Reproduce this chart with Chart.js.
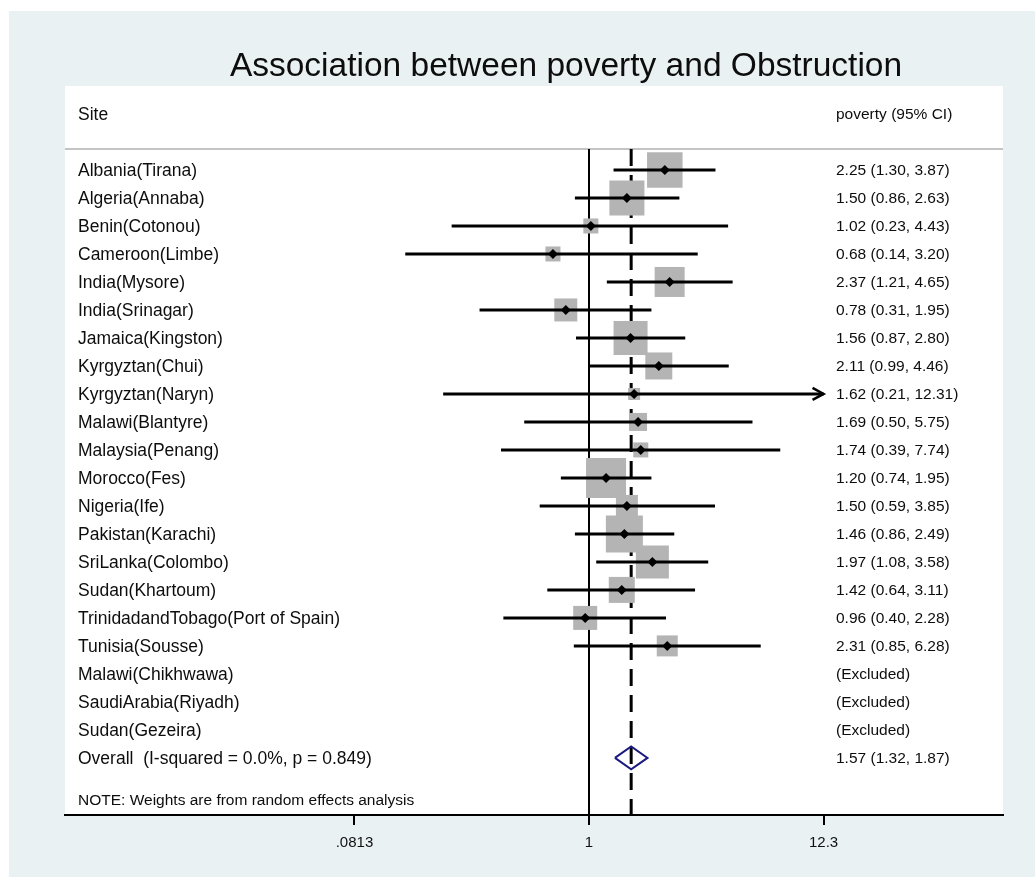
<!DOCTYPE html>
<html>
<head>
<meta charset="utf-8">
<script src="https://cdn.jsdelivr.net/npm/chart.js@4.4.1/dist/chart.umd.min.js"></script>
<style>
  html, body { margin: 0; padding: 0; background: #ffffff; }
  canvas { display: block; }
</style>
</head>
<body>
<canvas id="forest" width="1035" height="877"></canvas>
<script>
// Study-level odds ratios (poverty vs. obstruction) with 95% CI
const sites = [
  'Albania(Tirana)', 'Algeria(Annaba)', 'Benin(Cotonou)', 'Cameroon(Limbe)',
  'India(Mysore)', 'India(Srinagar)', 'Jamaica(Kingston)', 'Kyrgyztan(Chui)',
  'Kyrgyztan(Naryn)', 'Malawi(Blantyre)', 'Malaysia(Penang)', 'Morocco(Fes)',
  'Nigeria(Ife)', 'Pakistan(Karachi)', 'SriLanka(Colombo)', 'Sudan(Khartoum)',
  'TrinidadandTobago(Port of Spain)', 'Tunisia(Sousse)'
];
const estimates = [2.25, 1.50, 1.02, 0.68, 2.37, 0.78, 1.56, 2.11, 1.62, 1.69, 1.74, 1.20, 1.50, 1.46, 1.97, 1.42, 0.96, 2.31];
const lowerCI   = [1.30, 0.86, 0.23, 0.14, 1.21, 0.31, 0.87, 0.99, 0.21, 0.50, 0.39, 0.74, 0.59, 0.86, 1.08, 0.64, 0.40, 0.85];
const upperCI   = [3.87, 2.63, 4.43, 3.20, 4.65, 1.95, 2.80, 4.46, 12.31, 5.75, 7.74, 1.95, 3.85, 2.49, 3.58, 3.11, 2.28, 6.28];
// random-effects weights (%)
const weights   = [9.56, 9.30, 1.71, 1.71, 6.83, 4.01, 8.77, 5.53, 1.09, 2.46, 1.71, 12.14, 3.67, 10.39, 8.26, 5.13, 4.37, 3.35];

const excludedSites = ['Malawi(Chikhwawa)', 'SaudiArabia(Riyadh)', 'Sudan(Gezeira)'];

const overallLabel = 'Overall  (I-squared = 0.0%, p = 0.849)';
const overallValues = [1.57, 1.32, 1.87]; // estimate, lower, upper

const tickValues = [0.0813, 1, 12.3];
const tickLabels = ['.0813', '1', '12.3'];

const titleText = 'Association between poverty and Obstruction';
const noteText = 'NOTE: Weights are from random effects analysis';
const headerLeft = 'Site';
const headerRight = 'poverty (95% CI)';

// ---- row layout ----
const nStudies = sites.length;
const excludedStart = nStudies;
const overallRow = nStudies + excludedSites.length;
const noteRow = overallRow + 1.5;
const headerRow = -2;
const ruleRow = -0.75;
const yTop = -3;
const yBottom = overallRow + 2.04;

const fmt = v => v.toFixed(2);
const statText = (e, l, u) => `${fmt(e)} (${fmt(l)}, ${fmt(u)})`;

const BOX_SCALE = 11.48; // px of box side per sqrt(weight %)

// datasets
const refLine = [{ x: 1, y: ruleRow }, { x: 1, y: yBottom }];
const overallLine = [{ x: overallValues[0], y: ruleRow }, { x: overallValues[0], y: yBottom }];

const boxPoints = estimates.map((e, i) => ({ x: e, y: i }));
const boxRadii = weights.map(w => BOX_SCALE * Math.sqrt(w) / Math.SQRT2);

const ciPoints = [];
estimates.forEach((e, i) => {
  ciPoints.push({ x: lowerCI[i], y: i });
  ciPoints.push({ x: Math.min(upperCI[i], tickValues[tickValues.length - 1]), y: i });
  ciPoints.push({ x: e, y: null });
});

const diamondHalf = 0.41;
const diamondPoints = [
  { x: overallValues[1], y: overallRow },
  { x: overallValues[0], y: overallRow - diamondHalf },
  { x: overallValues[2], y: overallRow },
  { x: overallValues[0], y: overallRow + diamondHalf },
  { x: overallValues[1], y: overallRow }
];

const LEFT_FONT = '17.5px "Liberation Sans", Arial, sans-serif';
const RIGHT_FONT = '15.5px "Liberation Sans", Arial, sans-serif';
const NOTE_FONT = '15.5px "Liberation Sans", Arial, sans-serif';
const TITLE_FONT = '33.5px "Liberation Sans", Arial, sans-serif';
const TEXT_NUDGE = 1;

const backdrop = {
  id: 'backdrop',
  beforeDraw(chart) {
    const { ctx, chartArea: a } = chart;
    ctx.save();
    ctx.fillStyle = '#ffffff';
    ctx.fillRect(0, 0, chart.width, chart.height);
    ctx.fillStyle = '#e9f1f3';
    ctx.fillRect(9, 11, chart.width - 9, chart.height - 11);
    ctx.fillStyle = '#ffffff';
    ctx.fillRect(a.left, a.top, a.right - a.left, a.bottom - a.top);
    // header rule
    const y = chart.scales.y.getPixelForValue(ruleRow);
    ctx.strokeStyle = '#c4c4c4';
    ctx.lineWidth = 2;
    ctx.beginPath();
    ctx.moveTo(a.left, y);
    ctx.lineTo(a.right, y);
    ctx.stroke();
    ctx.restore();
  }
};

const annotations = {
  id: 'annotations',
  afterDraw(chart) {
    const { ctx, chartArea: a, scales: { x, y } } = chart;
    const leftX = a.left + 13;
    const rightX = a.right - 167;
    const rowY = r => y.getPixelForValue(r) + TEXT_NUDGE;
    ctx.save();
    ctx.fillStyle = '#0d0d0d';
    ctx.textBaseline = 'middle';

    // title
    ctx.font = TITLE_FONT;
    ctx.textAlign = 'center';
    ctx.fillText(titleText, 566, 67);

    ctx.textAlign = 'left';
    ctx.font = LEFT_FONT;
    ctx.fillText(headerLeft, leftX, rowY(headerRow));
    ctx.font = RIGHT_FONT;
    ctx.fillText(headerRight, rightX, rowY(headerRow));

    sites.forEach((s, i) => {
      const py = rowY(i);
      ctx.font = LEFT_FONT;
      ctx.fillText(s, leftX, py);
      ctx.font = RIGHT_FONT;
      ctx.fillText(statText(estimates[i], lowerCI[i], upperCI[i]), rightX, py);
    });
    excludedSites.forEach((s, j) => {
      const py = rowY(excludedStart + j);
      ctx.font = LEFT_FONT;
      ctx.fillText(s, leftX, py);
      ctx.font = RIGHT_FONT;
      ctx.fillText('(Excluded)', rightX, py);
    });
    const oy = rowY(overallRow);
    ctx.font = LEFT_FONT;
    ctx.fillText(overallLabel, leftX, oy);
    ctx.font = RIGHT_FONT;
    ctx.fillText(statText(overallValues[0], overallValues[1], overallValues[2]), rightX, oy);

    ctx.font = NOTE_FONT;
    ctx.fillText(noteText, leftX, rowY(noteRow));

    // arrowheads where the CI runs past the last tick
    const maxTick = tickValues[tickValues.length - 1];
    ctx.strokeStyle = '#000000';
    ctx.lineWidth = 2.5;
    upperCI.forEach((u, i) => {
      if (u > maxTick) {
        const px = x.getPixelForValue(maxTick);
        const py = y.getPixelForValue(i);
        ctx.beginPath();
        ctx.moveTo(px - 11, py - 6);
        ctx.lineTo(px, py);
        ctx.lineTo(px - 11, py + 6);
        ctx.stroke();
      }
    });
    ctx.restore();
  }
};

new Chart(document.getElementById('forest'), {
  type: 'scatter',
  data: {
    datasets: [
      { data: refLine, showLine: true, borderColor: '#000', borderWidth: 2, pointRadius: 0, order: 6 },
      { data: overallLine, showLine: true, borderColor: '#000', borderWidth: 3, borderDash: [17, 9], pointRadius: 0, order: 5 },
      { data: boxPoints, pointStyle: 'rect', pointRadius: boxRadii, backgroundColor: '#b4b4b4', borderWidth: 0, order: 4 },
      { data: ciPoints, showLine: true, spanGaps: false, borderColor: '#000', borderWidth: 3, pointRadius: 0, order: 3 },
      { data: boxPoints, pointStyle: 'rectRot', pointRadius: 5, backgroundColor: '#000', borderWidth: 0, order: 2 },
      { data: diamondPoints, showLine: true, borderColor: '#1a1a80', borderWidth: 2, pointRadius: 0, fill: false, order: 1 }
    ]
  },
  options: {
    responsive: false,
    animation: false,
    devicePixelRatio: 1,
    layout: { padding: { left: 65, right: 32, top: 86, bottom: 0 } },
    plugins: { legend: { display: false }, tooltip: { enabled: false }, title: { display: false } },
    scales: {
      x: {
        type: 'logarithmic',
        position: 'bottom',
        min: 0.003673,
        max: 83.9,
        bounds: 'data',
        afterBuildTicks: s => { s.ticks = tickValues.map(v => ({ value: v })); },
        afterFit: s => { s.height = 62; },
        ticks: {
          autoSkip: false,
          maxRotation: 0,
          padding: 9,
          color: '#111',
          font: { family: '"Liberation Sans", Arial, sans-serif', size: 15 },
          callback: v => tickLabels[tickValues.indexOf(v)]
        },
        grid: { drawOnChartArea: false, drawTicks: true, tickLength: 10, tickWidth: 2, lineWidth: 2, tickColor: '#000' },
        border: { display: true, color: '#000', width: 2 }
      },
      y: {
        type: 'linear',
        reverse: true,
        min: yTop,
        max: yBottom,
        display: false
      }
    }
  },
  plugins: [backdrop, annotations]
});
</script>
</body>
</html>
